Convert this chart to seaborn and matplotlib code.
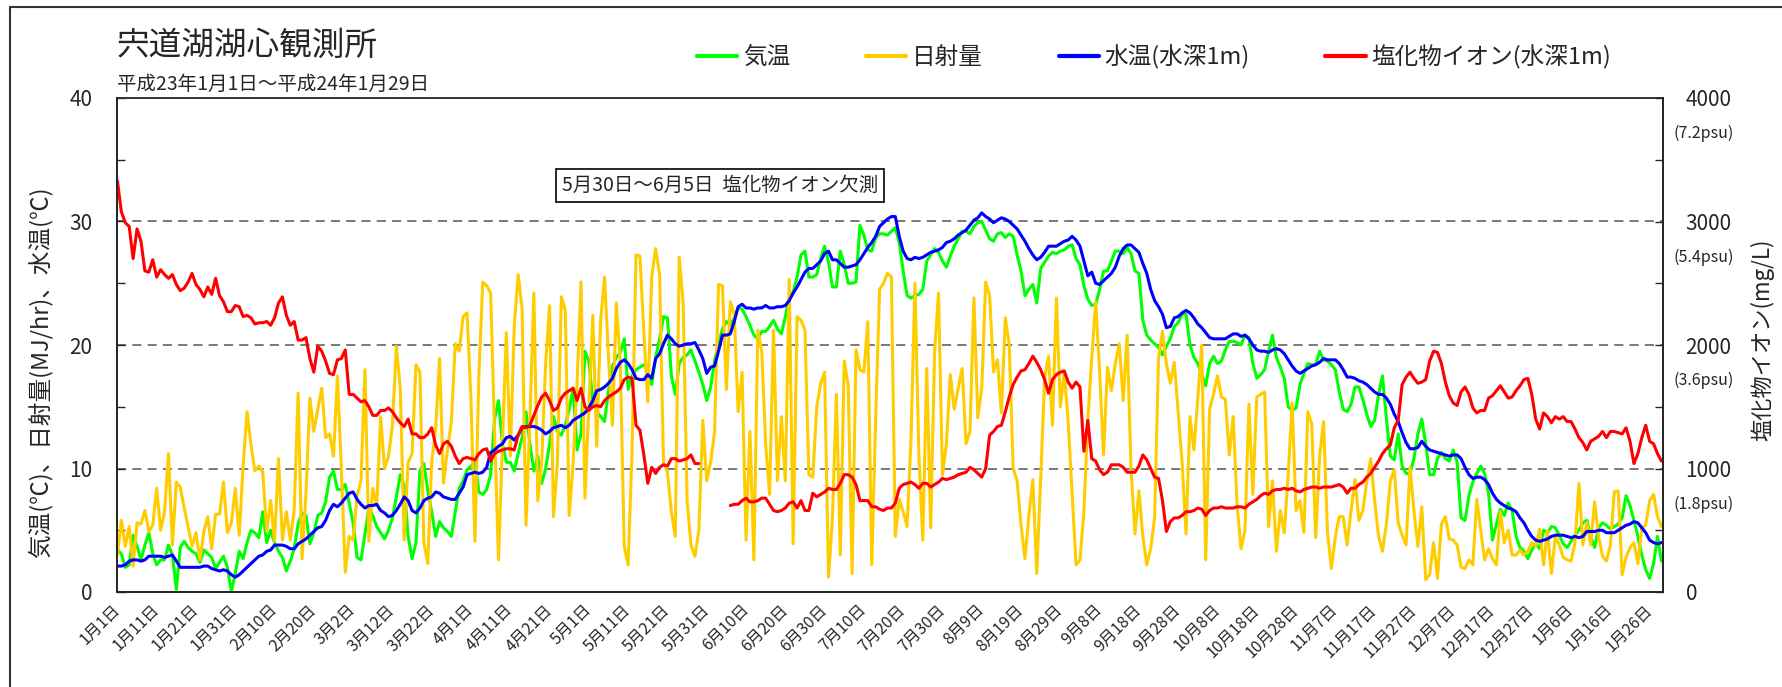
import numpy as np
import pandas as pd
import matplotlib
matplotlib.use('Agg')
import matplotlib.pyplot as plt
import seaborn as sns
from matplotlib.lines import Line2D
from matplotlib.ticker import MultipleLocator
import matplotlib.transforms as mtransforms

# daily values, 2011-01-01 .. 2012-01-29 (394 days)
air_temp = [
    3.4, 3.1, 2.0, 2.2, 4.6, 3.7, 2.6, 3.8, 4.8, 3.1,
    2.2, 2.6, 2.6, 3.8, 3.0, 0.2, 3.6, 4.1, 3.6, 3.3,
    3.1, 2.4, 3.4, 3.1, 2.8, 1.9, 2.4, 2.9, 2.0, 0.0,
    1.5, 3.3, 2.7, 4.0, 5.0, 4.8, 4.4, 6.5, 4.0, 5.0,
    4.0, 3.3, 2.8, 1.7, 2.5, 3.5, 5.5, 6.4, 6.2, 3.9,
    4.8, 6.2, 6.4, 7.3, 9.3, 9.8, 8.3, 8.3, 8.7, 7.2,
    5.6, 2.8, 2.6, 4.7, 6.8, 6.2, 5.3, 4.8, 4.3, 5.0,
    6.0, 7.7, 9.5, 8.6, 4.5, 2.7, 4.0, 9.8, 10.4, 8.2,
    6.5, 4.5, 5.7, 5.2, 4.9, 4.5, 6.5, 8.4, 9.0, 9.9,
    10.2, 10.6, 8.1, 7.9, 8.3, 9.5, 14.0, 15.5, 12.0, 10.5,
    10.5, 9.8, 11.2, 12.5, 14.6, 12.0, 9.8, 11.0, 8.8, 10.0,
    12.0, 14.2, 13.0, 12.7, 13.5, 14.8, 16.5, 11.5, 12.8, 19.5,
    18.7, 15.5, 14.6, 14.2, 13.8, 16.3, 18.3, 19.0, 19.4, 20.5,
    16.4, 17.5, 18.0, 18.2, 18.4, 17.9, 16.8, 19.0, 20.5, 22.3,
    22.2, 17.5, 16.0, 18.5, 19.0, 19.2, 19.6, 18.7, 17.8, 16.8,
    15.5, 16.6, 18.7, 20.1, 21.3, 21.9, 21.6, 22.2, 23.0, 22.9,
    22.3, 21.6, 20.8, 20.5, 21.1, 21.1, 21.5, 22.0, 21.3, 20.9,
    22.3, 23.8, 24.3, 25.5, 27.3, 27.6, 25.5, 25.5, 25.7, 27.0,
    28.0, 26.7, 24.7, 24.7, 27.6, 26.5, 25.0, 25.0, 25.1, 29.7,
    28.9, 27.7, 27.6, 28.7, 29.0, 29.0, 28.9, 29.2, 29.5, 28.3,
    26.0, 24.0, 23.8, 24.0, 24.1, 24.5, 26.8, 27.3, 27.8, 27.5,
    26.8, 26.3, 27.2, 28.0, 28.6, 29.2, 29.2, 29.0, 29.6, 29.9,
    30.0, 29.3, 28.6, 28.4, 29.0, 29.1, 28.7, 29.0, 28.8, 27.3,
    26.0, 24.0, 24.5, 24.9, 23.4, 26.2, 26.7, 27.2, 27.5, 27.4,
    27.6, 27.7, 28.0, 28.1, 27.0, 26.5, 24.8, 23.7, 23.2, 23.3,
    24.5, 26.0, 26.0, 26.8, 27.6, 27.6, 27.4, 27.9, 27.4, 26.0,
    25.8, 22.0, 20.8, 20.4, 20.1, 19.8, 19.2, 19.9, 20.5, 21.5,
    21.8, 22.5, 22.5, 20.0, 19.0, 18.5, 17.6, 16.7, 18.5, 19.1,
    18.5, 18.7, 19.6, 20.3, 20.3, 20.2, 20.0, 20.8, 20.6, 18.5,
    17.3, 17.6, 18.0, 19.5, 20.8, 19.0, 18.2, 17.3, 15.0, 14.7,
    14.9, 16.8, 17.7, 18.5, 18.4, 18.4, 19.5, 18.8, 18.7, 18.4,
    18.0, 16.2, 14.8, 14.6, 15.2, 16.6, 16.6, 15.6, 14.4, 13.4,
    13.9, 16.0, 17.5, 14.0, 11.0, 10.7, 12.8, 10.2, 9.6, 9.6,
    10.8, 12.8, 14.0, 12.0, 9.5, 9.5, 10.8, 11.3, 10.8, 10.6,
    11.5, 10.5, 6.0, 5.8, 7.8, 8.9, 9.6, 10.2, 9.6, 8.0,
    4.2, 5.5, 6.7, 6.2, 7.2, 6.6, 4.5, 3.6, 3.3, 2.7,
    3.4, 3.9, 3.5, 5.0, 4.8, 5.3, 5.2, 4.6, 3.9, 3.6,
    4.1, 4.6, 5.0, 5.6, 5.8, 4.5, 3.6, 5.2, 5.6, 5.4,
    5.1, 5.3, 5.5, 6.0, 7.8, 7.0, 5.8, 4.5, 3.0, 1.8,
    1.1, 2.3, 4.5, 2.5,
]

solar = [
    3.0, 5.8, 3.7, 5.3, 2.1, 5.6, 5.5, 6.6, 4.9, 5.4,
    8.4, 5.0, 6.5, 11.2, 3.8, 8.9, 8.5, 6.8, 5.3, 3.7,
    4.8, 2.6, 4.9, 6.1, 3.5, 6.3, 6.3, 8.9, 4.8, 5.6,
    8.4, 4.6, 10.2, 14.6, 11.9, 9.8, 10.2, 9.7, 4.9, 7.4,
    4.1, 10.8, 4.2, 6.5, 4.2, 6.7, 16.1, 2.7, 8.0, 15.7,
    13.0, 14.8, 16.5, 12.5, 12.8, 11.0, 17.5, 10.0, 1.6, 4.5,
    4.2, 7.8, 9.0, 18.0, 4.1, 8.4, 7.0, 14.2, 10.0, 11.0,
    13.5, 19.9, 16.5, 4.2, 10.5, 11.2, 18.4, 17.8, 4.0, 2.3,
    10.5, 13.2, 18.9, 8.8, 11.5, 13.8, 20.1, 19.5, 22.3, 22.6,
    15.5, 4.1, 17.5, 25.1, 24.8, 24.2, 13.0, 2.6, 12.0, 21.0,
    11.0, 21.5, 25.7, 23.0, 5.4, 14.0, 24.2, 7.4, 10.5, 18.5,
    23.2, 6.1, 10.5, 23.9, 22.8, 6.2, 10.5, 17.0, 25.1, 7.6,
    15.0, 22.4, 11.8, 22.0, 25.5, 19.0, 13.5, 23.4, 18.5, 3.7,
    2.2, 11.5, 27.3, 27.2, 21.0, 15.4, 25.5, 27.8, 25.7, 10.5,
    9.7, 6.5, 4.5, 27.1, 23.4, 7.4, 3.8, 2.9, 5.0, 13.9,
    9.0, 10.5, 13.0, 24.9, 24.8, 16.4, 23.5, 22.5, 14.6, 17.8,
    4.2, 13.0, 2.6, 21.2, 19.5, 12.0, 7.9, 21.2, 9.0, 14.2,
    9.0, 25.3, 3.9, 22.3, 22.0, 21.2, 9.5, 9.3, 15.0, 16.9,
    17.8, 1.2, 6.0, 16.0, 3.0, 18.7, 16.8, 1.5, 19.6, 18.0,
    17.8, 21.9, 2.2, 14.0, 24.5, 25.0, 25.8, 25.5, 4.5, 7.5,
    6.5, 5.3, 12.5, 25.0, 11.0, 4.2, 18.1, 5.2, 19.5, 24.2,
    9.5, 12.0, 17.6, 14.8, 16.5, 18.1, 12.0, 13.0, 23.8, 14.1,
    16.5, 25.1, 24.0, 17.8, 18.8, 14.5, 22.2, 20.0, 10.0, 9.0,
    5.4, 2.7, 6.2, 9.1, 1.5, 9.2, 17.3, 19.1, 13.5, 23.8,
    15.0, 17.8, 13.8, 8.0, 2.2, 2.6, 6.5, 14.0, 19.0, 23.5,
    17.8, 11.1, 18.2, 16.3, 18.5, 20.1, 15.5, 20.8, 10.0, 4.7,
    8.2, 4.5, 2.2, 3.5, 6.0, 19.0, 21.1, 18.5, 16.9, 18.6,
    14.6, 10.5, 4.7, 14.2, 11.5, 15.8, 20.0, 2.6, 14.8, 16.0,
    17.5, 15.8, 15.6, 11.1, 14.2, 7.0, 3.5, 5.0, 15.2, 7.9,
    15.8, 16.0, 16.2, 5.3, 9.0, 3.3, 6.6, 4.8, 9.5, 15.3,
    6.6, 7.4, 4.8, 14.6, 13.6, 4.4, 11.0, 13.8, 4.8, 1.9,
    4.5, 6.1, 6.1, 3.8, 6.6, 9.1, 5.8, 6.6, 8.9, 10.8,
    7.4, 4.5, 3.3, 5.5, 9.0, 9.9, 5.6, 4.6, 3.8, 10.1,
    6.6, 3.7, 6.9, 1.0, 1.4, 4.0, 1.1, 5.5, 6.1, 4.3,
    4.2, 3.8, 2.0, 1.9, 2.6, 2.2, 7.5, 5.0, 2.6, 3.5,
    2.7, 2.2, 6.5, 4.0, 5.0, 3.0, 3.0, 3.4, 3.0, 3.3,
    4.0, 3.7, 5.1, 2.2, 5.0, 1.5, 4.5, 3.8, 2.8, 2.6,
    2.5, 4.0, 8.8, 3.8, 5.6, 3.8, 7.3, 4.5, 2.9, 2.5,
    3.8, 8.1, 8.2, 1.4, 2.8, 3.6, 4.0, 2.3, 5.2, 5.4,
    7.4, 7.9, 6.1, 5.3,
]

water_temp = [
    2.1, 2.1, 2.2, 2.5, 2.6, 2.6, 2.5, 2.6, 2.9, 2.9,
    2.9, 2.9, 2.8, 2.9, 3.0, 2.5, 2.0, 2.0, 2.0, 2.0,
    2.0, 2.0, 2.1, 2.1, 1.9, 1.8, 1.7, 1.8, 1.7, 1.4,
    1.2, 1.4, 1.7, 2.0, 2.3, 2.6, 2.9, 3.0, 3.3, 3.4,
    3.8, 3.8, 3.8, 3.7, 3.5, 3.5, 3.9, 4.1, 4.3, 4.6,
    4.9, 5.2, 5.3, 5.8, 6.6, 7.1, 6.9, 7.2, 7.6, 8.0,
    8.1, 7.5, 7.1, 6.8, 7.0, 7.0, 7.1, 6.6, 6.4, 6.1,
    6.2, 6.6, 7.1, 7.7, 7.4, 6.6, 6.4, 6.8, 7.4, 7.6,
    7.7, 8.1, 8.0, 7.7, 7.6, 7.5, 7.5, 8.0, 8.5, 9.5,
    9.6, 9.7, 9.6, 9.7, 10.1, 11.3, 11.5, 11.8, 12.0, 12.5,
    12.6, 12.3, 12.7, 13.3, 13.4, 13.4, 13.4, 13.3, 13.1, 12.8,
    13.0, 13.3, 13.4, 13.5, 13.3, 13.5, 13.9, 14.1, 14.3, 14.5,
    14.9, 15.5, 16.3, 16.4, 16.6, 16.9, 17.3, 18.1, 18.6, 18.8,
    18.5, 18.0, 17.3, 17.2, 17.2, 17.6, 17.3, 18.9, 19.3, 20.1,
    20.8, 20.5, 20.1, 19.9, 20.0, 20.1, 20.1, 20.2, 19.6, 18.9,
    17.7, 18.2, 18.3, 19.5, 20.8, 20.8, 20.9, 21.9, 23.1, 23.3,
    23.0, 23.0, 22.9, 23.0, 23.0, 23.2, 23.0, 23.0, 23.1, 23.1,
    23.2, 23.6, 24.2, 24.7, 25.3, 25.9, 26.2, 26.2, 26.5, 26.8,
    27.4, 27.6, 26.9, 26.9, 26.6, 26.3, 26.3, 26.4, 26.5, 26.9,
    27.4, 27.9, 28.3, 28.8, 29.6, 29.9, 30.2, 30.4, 30.4, 28.8,
    27.6, 27.0, 26.9, 27.1, 27.0, 27.1, 27.3, 27.5, 27.6, 27.7,
    27.9, 28.3, 28.4, 28.6, 28.9, 29.1, 29.3, 29.7, 30.1, 30.3,
    30.7, 30.4, 30.2, 29.9, 30.1, 30.3, 30.2, 30.0, 29.7, 29.4,
    28.9, 28.4, 27.8, 27.3, 26.9, 27.1, 27.5, 28.0, 28.0, 28.0,
    28.2, 28.4, 28.5, 28.8, 28.5, 28.0, 26.8, 25.6, 25.9, 25.0,
    24.9, 25.2, 25.5, 25.8, 26.3, 27.2, 27.8, 28.1, 28.1, 27.8,
    27.5, 26.6, 25.8, 24.5, 23.6, 23.1, 22.5, 21.4, 21.5, 22.2,
    22.3, 22.6, 22.8, 22.6, 22.2, 21.7, 21.4, 21.0, 20.6, 20.5,
    20.5, 20.5, 20.5, 20.7, 20.9, 20.9, 20.7, 20.8, 20.5, 20.0,
    19.6, 19.5, 19.5, 19.4, 19.6, 19.7, 19.6, 19.3, 18.8, 18.3,
    17.9, 17.7, 17.9, 18.1, 18.3, 18.4, 18.6, 18.9, 18.8, 18.8,
    18.8, 18.5, 18.0, 17.4, 17.4, 17.3, 17.1, 17.0, 16.8, 16.5,
    16.2, 16.0, 16.0, 15.7, 15.2, 14.4, 13.8, 12.9, 12.1, 11.6,
    11.6, 11.7, 12.2, 11.8, 11.5, 11.4, 11.3, 11.2, 11.1, 11.0,
    11.1, 11.1, 10.8, 10.1, 9.5, 9.2, 9.3, 9.3, 9.1, 8.7,
    8.0, 7.5, 7.2, 7.0, 6.8, 6.7, 6.5, 6.0, 5.6, 5.0,
    4.5, 4.2, 4.1, 4.2, 4.3, 4.5, 4.6, 4.6, 4.6, 4.5,
    4.4, 4.5, 4.4, 4.5, 4.9, 4.9, 4.9, 5.0, 5.0, 4.8,
    4.8, 4.8, 5.0, 5.2, 5.4, 5.5, 5.7, 5.6, 5.2, 4.8,
    4.2, 4.0, 3.9, 4.0,
]

nan = np.nan
chloride = [
    3330, 3080, 2990, 2960, 2700, 2940, 2840, 2600, 2590, 2690,
    2550, 2610, 2570, 2540, 2570, 2490, 2440, 2460, 2510, 2580,
    2490, 2450, 2390, 2470, 2410, 2540, 2400, 2350, 2270, 2270,
    2320, 2310, 2230, 2240, 2220, 2170, 2180, 2180, 2190, 2160,
    2220, 2340, 2390, 2240, 2160, 2190, 2040, 2040, 2060, 1890,
    1780, 1990, 1950, 1870, 1770, 1760, 1880, 1890, 1960, 1600,
    1600, 1570, 1540, 1550, 1500, 1430, 1430, 1470, 1470, 1490,
    1460, 1410, 1370, 1340, 1400, 1280, 1280, 1250, 1250, 1280,
    1330, 1190, 1120, 1200, 1220, 1180, 1100, 1040, 1080, 1090,
    1080, 1070, 1120, 1150, 1160, 1060, 1120, 1140, 1150, 1160,
    1160, 1150, 1270, 1340, 1330, 1350, 1430, 1510, 1580, 1610,
    1550, 1470, 1490, 1570, 1610, 1630, 1650, 1550, 1650, 1500,
    1470, 1500, 1510, 1500, 1550, 1580, 1600, 1620, 1650, 1720,
    1740, 1730, 1350, 1310, 1110, 880, 1010, 960, 1010, 1030,
    1020, 1080, 1080, 1060, 1070, 1080, 1110, 1040, 1040, nan,
    nan, nan, nan, nan, nan, nan, 700, 710, 710, 740,
    760, 730, 730, 740, 760, 760, 710, 660, 650, 660,
    680, 720, 730, 680, 740, 660, 660, 800, 770, 790,
    810, 840, 830, 830, 880, 950, 950, 930, 870, 740,
    740, 740, 690, 690, 670, 660, 680, 680, 720, 840,
    870, 880, 890, 870, 840, 880, 880, 850, 870, 890,
    920, 910, 920, 930, 950, 960, 970, 1010, 990, 960,
    930, 1000, 1270, 1300, 1340, 1350, 1460, 1580, 1680, 1740,
    1790, 1800, 1850, 1910, 1860, 1800, 1720, 1610, 1720, 1760,
    1780, 1790, 1700, 1650, 1700, 1660, 1140, 1390, 1080, 1060,
    990, 950, 970, 1030, 1030, 1030, 1010, 970, 970, 970,
    1020, 1110, 1070, 1000, 930, 920, 740, 490, 570, 600,
    600, 620, 650, 650, 660, 680, 670, 620, 660, 680,
    680, 690, 680, 680, 680, 690, 690, 680, 710, 730,
    750, 780, 800, 790, 820, 830, 830, 840, 830, 840,
    820, 810, 830, 840, 850, 850, 840, 850, 850, 850,
    860, 870, 850, 800, 840, 840, 870, 890, 930, 960,
    1010, 1060, 1120, 1160, 1190, 1330, 1390, 1680, 1740, 1780,
    1730, 1690, 1700, 1720, 1870, 1950, 1940, 1850, 1700, 1590,
    1530, 1510, 1620, 1660, 1600, 1490, 1450, 1470, 1470, 1570,
    1590, 1630, 1670, 1620, 1570, 1580, 1630, 1670, 1720, 1730,
    1600, 1400, 1320, 1450, 1420, 1370, 1420, 1400, 1420, 1380,
    1380, 1320, 1250, 1210, 1150, 1220, 1240, 1260, 1300, 1250,
    1300, 1300, 1290, 1280, 1330, 1220, 1040, 1120, 1250, 1350,
    1220, 1200, 1120, 1060,
]

tick_labels = ['1月1日', '1月11日', '1月21日', '1月31日', '2月10日', '2月20日',
               '3月2日', '3月12日', '3月22日', '4月1日', '4月11日', '4月21日',
               '5月1日', '5月11日', '5月21日', '5月31日', '6月10日', '6月20日',
               '6月30日', '7月10日', '7月20日', '7月30日', '8月9日', '8月19日',
               '8月29日', '9月8日', '9月18日', '9月28日', '10月8日', '10月18日',
               '10月28日', '11月7日', '11月17日', '11月27日', '12月7日', '12月17日',
               '12月27日', '1月6日', '1月16日', '1月26日']
psu_labels = ['(1.8psu)', '(3.6psu)', '(5.4psu)', '(7.2psu)']

GREEN = '#00FF00'
YELLOW = '#FFCC00'
BLUE = '#0000FF'
RED = '#FF0000'
LW = 2.2


def build_frame():
    df = pd.DataFrame({'day': np.arange(len(air_temp)),
                       'air': air_temp, 'solar': solar,
                       'water': water_temp, 'cl': chloride})
    return df


def plot_chart():
    sns.set_style('white')
    plt.rcParams['font.family'] = ['Noto Sans CJK JP', 'DejaVu Sans']
    df = build_frame()

    fig = plt.figure(figsize=(17.83, 6.87), dpi=100)
    ax = fig.add_axes([117.4 / 1783, 1 - 592 / 687, 1546 / 1783, 494 / 687])
    ax2 = ax.twinx()

    # dashed grid lines at 10,20,30
    for yv in [10, 20, 30]:
        ax.axhline(yv, color='#555555', lw=1.1, ls=(0, (6, 4)), zorder=0)

    sns.lineplot(x='day', y='air', data=df, color=GREEN, lw=LW, ax=ax, estimator=None)
    sns.lineplot(x='day', y='solar', data=df, color=YELLOW, lw=LW, ax=ax, estimator=None)
    sns.lineplot(x='day', y='water', data=df, color=BLUE, lw=LW, ax=ax, estimator=None)
    # chloride has a gap (5/30 - 6/5), draw the two pieces separately
    for part in [df[df['day'] < 149], df[df['day'] > 155]]:
        sns.lineplot(x='day', y='cl', data=part, color=RED, lw=LW, ax=ax2, estimator=None)

    ax.set_xlim(0, 393.5)
    ax.set_ylim(0, 40)
    ax2.set_ylim(0, 4000)
    ax.set_xticks(np.arange(0, 391, 10))
    ax.set_xticklabels(tick_labels, rotation=45, ha='right', va='center',
                       rotation_mode='anchor', fontsize=11.5)
    ax.set_yticks([0, 10, 20, 30, 40])
    ax.yaxis.set_minor_locator(MultipleLocator(5))
    ax2.set_yticks([0, 1000, 2000, 3000, 4000])
    ax2.yaxis.set_minor_locator(MultipleLocator(500))
    ax.set_xlabel('')
    ax.set_ylabel('')
    ax2.set_ylabel('')

    ax.tick_params(axis='x', direction='in', length=5, width=1, pad=11)
    ax.tick_params(axis='y', which='both', direction='in', length=6, width=1,
                   labelsize=15, pad=18)
    ax2.tick_params(axis='y', which='both', direction='in', length=6, width=1,
                    labelsize=15, pad=16)
    for sp in ax.spines.values():
        sp.set_color('#222222')
        sp.set_linewidth(1.2)
    for sp in ax2.spines.values():
        sp.set_color('#222222')
        sp.set_linewidth(1.2)
    ax.spines['top'].set_color('#888888')

    # psu notes under right tick labels
    trans = mtransforms.blended_transform_factory(ax2.transAxes, ax2.transData)
    for yv, lab in zip([1000, 2000, 3000, 4000], psu_labels):
        ax2.text(1.0065, yv - 290, lab, transform=trans, fontsize=11.5,
                 ha='left', va='center')

    # missing data note
    ax.text(153.4, 32.9, '5月30日～6月5日  塩化物イオン欠測', fontsize=14,
            ha='center', va='center',
            bbox=dict(boxstyle='square,pad=0.3', fc='white', ec='black', lw=1.2))

    # titles and axis labels
    fig.text(117 / 1783, 1 - 46 / 687, '宍道湖湖心観測所', fontsize=23.5,
             ha='left', va='center')
    fig.text(117 / 1783, 1 - 84 / 687, '平成23年1月1日～平成24年1月29日', fontsize=14,
             ha='left', va='center')
    fig.text(40 / 1783, 1 - 372 / 687, '気温(℃)、日射量(MJ/hr)、水温(℃)',
             fontsize=17, rotation=90, ha='center', va='center')
    fig.text(1762 / 1783, 1 - 340 / 687, '塩化物イオン(mg/L)',
             fontsize=16, rotation=90, ha='center', va='center')

    # legend
    handles = [Line2D([], [], color=GREEN, lw=3),
               Line2D([], [], color=YELLOW, lw=3),
               Line2D([], [], color=BLUE, lw=3),
               Line2D([], [], color=RED, lw=3)]
    names = ['気温', '日射量', '水温(水深1m)', '塩化物イオン(水深1m)']
    fig.legend(handles, names, loc='center left', bbox_to_anchor=(676 / 1783, 1 - 57 / 687),
               ncol=4, frameon=False, fontsize=17, handlelength=1.7,
               handletextpad=0.25, columnspacing=3.2)

    # figure frame (left and top edges visible)
    fig.add_artist(plt.Line2D([10 / 1783, 10 / 1783], [0, 1 - 7 / 687],
                              transform=fig.transFigure, color='#333333', lw=1.5))
    fig.add_artist(plt.Line2D([10 / 1783, 1], [1 - 7 / 687, 1 - 7 / 687],
                              transform=fig.transFigure, color='#333333', lw=1.5))

    plt.savefig('out.png', dpi=100)


if __name__ == '__main__':
    plot_chart()
